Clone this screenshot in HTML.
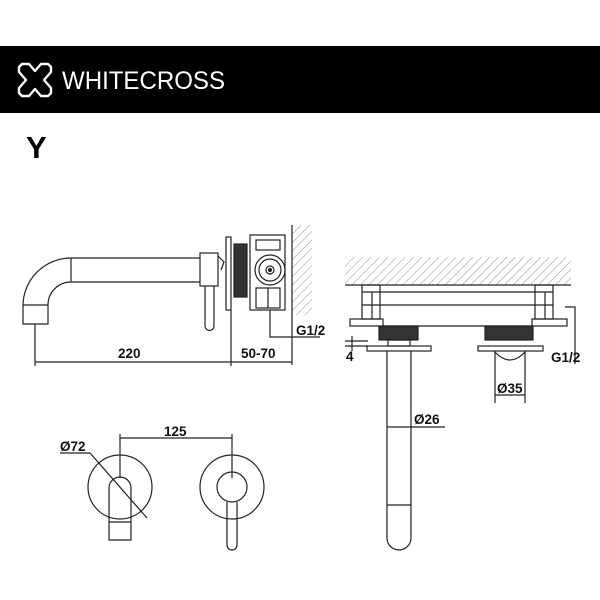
<!DOCTYPE html>
<html><head><style>body{margin:0;background:#fff}svg{display:block}</style></head><body>
<svg width="600" height="600" viewBox="0 0 600 600" xmlns="http://www.w3.org/2000/svg" font-family="Liberation Sans, sans-serif">
<defs>
<pattern id="h" width="6" height="6" patternUnits="userSpaceOnUse" patternTransform="rotate(45)"><line x1="0" y1="0" x2="0" y2="6" stroke="#777" stroke-width="0.8"/></pattern>
</defs>
<rect x="0" y="46" width="600" height="67" fill="#000"/>
<g fill="none" stroke="#fff" stroke-width="2.4" stroke-linejoin="round">
<path d="M22,64 L29,64 L35,71 L41,64 L48,64 L51,67 L51,72 L44,80 L51,88 L51,93 L48,96 L41,96 L35,89 L29,96 L22,96 L19,93 L19,88 L26,80 L19,72 L19,67 Z"/>
</g>
<text x="62" y="89" fill="#fff" font-size="25" textLength="163" lengthAdjust="spacingAndGlyphs">WHITECROSS</text>
<text x="26" y="158" font-size="31" font-weight="bold">Y</text>

<g fill="none" stroke="#222" stroke-width="1.2">
<path d="M200,258 L71,258 A48,48 0 0 0 23,305 L23,324 L48,324 L48,305 A23,23 0 0 1 71,282 L200,282"/>
<line x1="23" y1="305" x2="48" y2="305"/>
<line x1="71" y1="258" x2="71" y2="282"/>
<rect x="200" y="253" width="18" height="33"/>
<path d="M218,256 L224,262 L221,270"/>
<path d="M205,286 L205,326 A4.5,4.5 0 0 0 214,326 L214,286"/>
<rect x="226" y="237" width="5" height="73"/>
<rect x="234" y="244" width="13" height="53" fill="#333"/>
<rect x="250" y="235" width="35" height="75"/>
<rect x="256" y="240" width="24" height="10"/>
<rect x="256" y="288" width="24" height="20"/>
<line x1="268" y1="288" x2="268" y2="308"/>
<circle cx="270" cy="270" r="15"/>
<circle cx="270" cy="270" r="11"/>
<circle cx="270" cy="270" r="4"/>
<circle cx="270" cy="270" r="1.5" fill="#222"/>
<rect x="292" y="225" width="20" height="90" fill="url(#h)" stroke="none"/>
<line x1="292" y1="225" x2="292" y2="365"/>
<line x1="35" y1="324" x2="35" y2="366"/>
<line x1="231" y1="310" x2="231" y2="366"/>
<line x1="35" y1="362" x2="292" y2="362"/>
<path d="M270,310 L270,337 L320,337"/>
<rect x="345" y="257" width="226" height="28" fill="url(#h)" stroke="none"/>
<line x1="345" y1="285" x2="571" y2="285"/>
<rect x="362" y="285" width="18" height="34"/>
<line x1="372" y1="292" x2="372" y2="319"/>
<rect x="535" y="285" width="18" height="34"/>
<line x1="545" y1="292" x2="545" y2="319"/>
<line x1="362" y1="292" x2="553" y2="292"/>
<line x1="362" y1="305" x2="553" y2="305"/>
<rect x="350" y="319" width="33" height="7"/>
<rect x="532" y="319" width="35" height="7"/>
<line x1="383" y1="326" x2="532" y2="326"/>
<rect x="379" y="326" width="39" height="14" fill="#333"/>
<rect x="485" y="326" width="48" height="14" fill="#333"/>
<rect x="367" y="346" width="64" height="5"/>
<rect x="478" y="346" width="65" height="5"/>
<rect x="388" y="340" width="22" height="6"/>
<path d="M387,351 L387,538 A12,12 0 0 0 411,538 L411,351"/>
<line x1="387" y1="505" x2="411" y2="505"/>
<path d="M495,351 L495,403 M525,351 L525,403 M495,352 Q510,368 525,352"/>
<line x1="495" y1="395" x2="525" y2="395"/>
<line x1="387" y1="427" x2="445" y2="427"/>
<line x1="345" y1="341" x2="368" y2="341"/>
<line x1="345" y1="346" x2="368" y2="346"/>
<line x1="352" y1="336" x2="352" y2="351"/>
<path d="M565,307 L575,307 L575,364"/>
<circle cx="120" cy="487" r="32"/>
<circle cx="232" cy="487" r="32"/>
<circle cx="232" cy="487" r="15"/>
<path d="M109,540 L109,488 A11,11 0 0 1 131,488 L131,540 Z"/>
<line x1="109" y1="522" x2="131" y2="522"/>
<path d="M227,502 L227,545 A5,5 0 0 0 237,545 L237,502"/>
<line x1="120" y1="434" x2="120" y2="478"/>
<line x1="232" y1="434" x2="232" y2="478"/>
<line x1="120" y1="438" x2="232" y2="438"/>
<path d="M60,453 L90,453 L147,518"/>
</g>
<g font-size="13.5" font-weight="bold" fill="#111">
<text x="118" y="358">220</text>
<text x="241" y="358">50-70</text>
<text x="296" y="335">G1/2</text>
<text x="346" y="361">4</text>
<text x="551" y="362">G1/2</text>
<text x="497" y="393">Ø35</text>
<text x="414" y="424">Ø26</text>
<text x="164" y="436">125</text>
<text x="60" y="451">Ø72</text>
</g>
</svg>
</body></html>
